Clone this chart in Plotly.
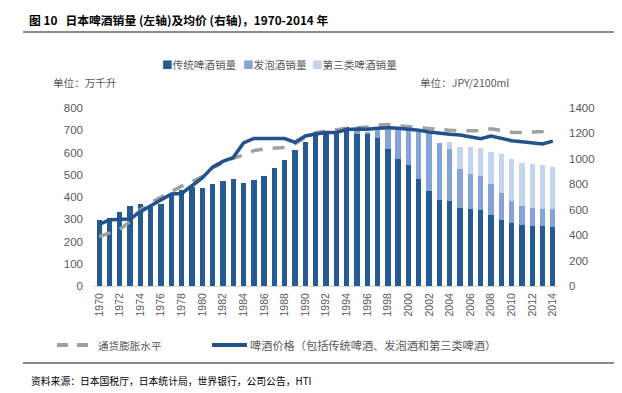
import plotly.graph_objects as go

years = list(range(1970, 2015))
tick_years = [str(y) for y in range(1970, 2015, 2)]

# 传统啤酒销量 (万千升)
beer = [295, 305, 334, 361, 367, 357, 367, 411, 431, 446,
        442, 460, 471, 483, 464, 476, 495, 531, 566, 611,
        645, 678, 690, 686, 716, 681, 686, 667, 615, 570,
        543, 480, 428, 388, 382, 352, 344, 341, 317, 296,
        284, 274, 271, 269, 266]
# 发泡酒销量
happoshu = [0, 0, 0, 0, 0, 0, 0, 0, 0, 0,
            0, 0, 0, 0, 0, 0, 0, 0, 0, 0,
            0, 0, 0, 0, 0, 16, 7, 33, 85, 130,
            157, 213, 259, 256, 233, 173, 159, 153, 141, 120,
            99, 85, 81, 75, 78]
# 第三类啤酒销量
third = [0, 0, 0, 0, 0, 0, 0, 0, 0, 0,
         0, 0, 0, 0, 0, 0, 0, 0, 0, 0,
         0, 0, 0, 0, 0, 0, 0, 0, 0, 0,
         0, 0, 0, 0, 33, 101, 120, 126, 145, 177,
         190, 195, 196, 198, 191]
# 通货膨胀水平 (右轴)
inflation = [388, 415, 445, 510, 600, 655, 700, 745, 785, 820,
             860, 930, 970, 1005, 1030, 1065, 1078, 1083, 1090, 1120,
             1170, 1205, 1220, 1230, 1240, 1245, 1250, 1265, 1270, 1260,
             1252, 1245, 1235, 1228, 1225, 1222, 1222, 1222, 1237, 1222,
             1210, 1208, 1210, 1215, 1250]
# 啤酒价格 (右轴)
price = [485, 520, 525, 527, 585, 629, 676, 724, 728, 785,
         850, 935, 980, 1010, 1125, 1160, 1162, 1162, 1160, 1130,
         1180, 1195, 1208, 1207, 1230, 1235, 1232, 1240, 1245, 1240,
         1235, 1225, 1212, 1200, 1193, 1188, 1176, 1158, 1180, 1158,
         1143, 1135, 1127, 1117, 1140]

C_DARK = "#255A92"
C_MED = "#86A3D6"
C_LIGHT = "#C5D4EE"
C_LINE = "#22518C"
C_DASH = "#A0A0A0"
TXT = "#595959"

xs = [str(y) for y in years]

fig = go.Figure()
fig.add_trace(go.Bar(x=xs, y=beer, name="传统啤酒销量", marker_color=C_DARK, marker_line_width=0))
fig.add_trace(go.Bar(x=xs, y=happoshu, name="发泡酒销量", marker_color=C_MED, marker_line_width=0))
fig.add_trace(go.Bar(x=xs, y=third, name="第三类啤酒销量", marker_color=C_LIGHT, marker_line_width=0))
fig.add_trace(go.Scatter(x=xs, y=inflation, name="通货膨胀水平", mode="lines", yaxis="y2",
                         line=dict(color=C_DASH, width=3.5, dash="12px,10px")))
fig.add_trace(go.Scatter(x=xs, y=price, name="啤酒价格", mode="lines", yaxis="y2",
                         line=dict(color=C_LINE, width=3.5)))

OFF = 8  # page body margin
W, H = 622 - OFF, 393 - OFF
L, R, T, B = 93 - OFF, 559 - OFF, 108 - OFF, 286 - OFF


def px(x):
    return (x - OFF - L) / (R - L)


def py(y):
    return (B - (y - OFF)) / (B - T)


fig.update_layout(
    width=W, height=H,
    margin=dict(l=L, r=W - R, t=T, b=H - B),
    paper_bgcolor="white", plot_bgcolor="white",
    barmode="stack", bargap=0.48,
    showlegend=False,
    font=dict(family="Liberation Sans, Noto Sans CJK SC", size=11, color=TXT),
    xaxis=dict(type="category", tickvals=tick_years, ticktext=tick_years, tickangle=-90,
               tickfont=dict(size=10.5, color=TXT), showgrid=False, showline=True,
               linecolor="#D9D9D9", linewidth=1, ticks="", range=[-0.6, 44.6],
               ticklabelstandoff=2),
    yaxis=dict(range=[0, 800], dtick=100, showgrid=False, zeroline=False, showline=False,
               tickfont=dict(size=11.5, color=TXT), ticks="", ticklabelstandoff=9),
    yaxis2=dict(range=[0, 1400], dtick=200, overlaying="y", side="right", showgrid=False,
                zeroline=False, showline=False, tickfont=dict(size=11.5, color=TXT), ticks="",
                ticklabelstandoff=9),
)

cjk = "Noto Sans CJK SC"
shapes = []
for yy in (7, 32, 363):
    shapes.append(dict(type="line", xref="paper", yref="paper", x0=px(23), x1=px(640),
                       y0=py(yy), y1=py(yy), line=dict(color="#8C8C8C", width=2)))
# bottom legend line samples
shapes.append(dict(type="line", xref="paper", yref="paper", x0=px(57), x1=px(88),
                   y0=py(345), y1=py(345), line=dict(color=C_DASH, width=4, dash="11px,9px")))
shapes.append(dict(type="line", xref="paper", yref="paper", x0=px(212), x1=px(247),
                   y0=py(345), y1=py(345), line=dict(color=C_LINE, width=4)))
fig.update_layout(shapes=shapes)

ann = []
ann.append(dict(text="<b>图 10&nbsp;&nbsp;&nbsp;日本啤酒销量 (左轴)及均价 (右轴)，1970-2014 年</b>",
                xref="paper", yref="paper", x=px(27), y=py(19), xanchor="left", yanchor="middle",
                showarrow=False, font=dict(family=cjk, size=11.8, color="#000000")))
legend_items = [(160, C_DARK, "传统啤酒销量"), (241, C_MED, "发泡酒销量"), (310, C_LIGHT, "第三类啤酒销量")]
for xpos, col, name in legend_items:
    ann.append(dict(text=f'<span style="color:{col}">■</span>{name}', xref="paper", yref="paper",
                    x=px(xpos), y=py(65), xanchor="left", yanchor="middle", showarrow=False,
                    font=dict(family=cjk, size=10.6, color=TXT)))
ann.append(dict(text="单位：万千升", xref="paper", yref="paper", x=px(51), y=py(82),
                xanchor="left", yanchor="middle", showarrow=False, font=dict(family=cjk, size=10.6, color=TXT)))
ann.append(dict(text="单位：JPY/2100ml", xref="paper", yref="paper", x=px(418), y=py(82),
                xanchor="left", yanchor="middle", showarrow=False, font=dict(family=cjk, size=10.6, color=TXT)))
ann.append(dict(text="通货膨胀水平", xref="paper", yref="paper", x=px(96), y=py(345),
                xanchor="left", yanchor="middle", showarrow=False, font=dict(family=cjk, size=10.6, color=TXT)))
ann.append(dict(text="啤酒价格（包括传统啤酒、发泡酒和第三类啤酒）", xref="paper", yref="paper", x=px(248), y=py(345),
                xanchor="left", yanchor="middle", showarrow=False, font=dict(family=cjk, size=11.2, color=TXT)))
ann.append(dict(text="资料来源：日本国税厅，日本统计局，世界银行，公司公告，HTI", xref="paper", yref="paper",
                x=px(29), y=py(381), xanchor="left", yanchor="middle", showarrow=False,
                font=dict(family=cjk, size=9.8, color="#000000")))
fig.update_layout(annotations=ann)

fig.write_html("out.html")
